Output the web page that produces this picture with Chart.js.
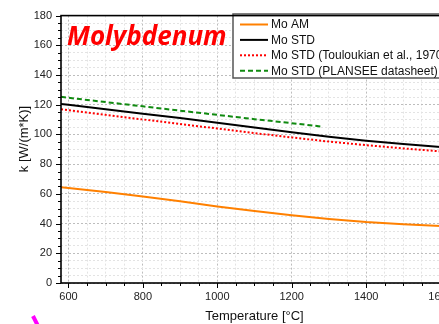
<!DOCTYPE html>
<html>
<head>
<meta charset="utf-8">
<script src="https://cdn.jsdelivr.net/npm/chart.js@4.4.1/dist/chart.umd.min.js"></script>
<style>
  html, body { margin: 0; padding: 0; background: #fff; overflow: hidden; }
  #wrap { position: absolute; left: 0; top: 0; width: 460px; height: 324px; }
</style>
</head>
<body>
<div id="wrap"><canvas id="kChart" width="460" height="324"></canvas></div>
<script>
// temperatures [°C]
const temps = [580, 600, 700, 800, 900, 1000, 1100, 1200, 1300, 1400, 1500, 1600];
const plantTemps = [580, 600, 700, 800, 900, 1000, 1100, 1200, 1280];

// thermal conductivity k [W/(m*K)]
const moAM = [64.5, 64.0, 61.2, 58.2, 55.0, 51.5, 48.4, 45.6, 43.1, 41.0, 39.6, 38.4];
const moSTD = [120.5, 120.0, 117.0, 114.0, 111.0, 107.8, 104.6, 101.4, 98.5, 95.8, 93.5, 91.5];
const moTouloukian = [116.9, 116.3, 113.2, 110.1, 107.0, 104.0, 100.9, 98.0, 95.2, 92.8, 90.6, 88.6];
const moPlansee = [125.3, 124.7, 121.8, 118.9, 116.0, 113.2, 110.3, 107.6, 105.3];

const xMajor = [600, 800, 1000, 1200, 1400, 1600];
const yMajor = [0, 20, 40, 60, 80, 100, 120, 140, 160, 180];
const xMinorStep = 50;

const toPoints = (xs, ys) => xs.map((x, i) => ({ x: x, y: ys[i] }));

const ctx = document.getElementById('kChart').getContext('2d');

// small outward ticks, long on labelled values
const tickMarks = {
    id: 'tickMarks',
    afterDraw(chart) {
        const c = chart.ctx;
        const xs = chart.scales.x, ys = chart.scales.y;
        const area = chart.chartArea;
        c.save();
        c.strokeStyle = '#000';
        c.lineWidth = 1;
        xs.ticks.forEach(t => {
            const px = Math.round(xs.getPixelForValue(t.value)) + 0.5;
            const len = xMajor.includes(t.value) ? 5 : 3;
            c.beginPath();
            c.moveTo(px, area.bottom);
            c.lineTo(px, area.bottom + len);
            c.stroke();
        });
        ys.ticks.forEach(t => {
            const py = Math.round(ys.getPixelForValue(t.value)) + 0.5;
            const len = yMajor.includes(t.value) ? 5 : 3;
            c.beginPath();
            c.moveTo(area.left, py);
            c.lineTo(area.left - len, py);
            c.stroke();
        });
        c.restore();
    }
};

// legend box inside the plot, title text, frame
const decorations = {
    id: 'decorations',
    afterDraw(chart) {
        const c = chart.ctx;
        const area = chart.chartArea;
        c.save();

        // legend
        const lx = 233, ly = 14, lw = 222, lh = 64;
        c.fillStyle = '#fff';
        c.fillRect(lx, ly, lw, lh);
        c.strokeStyle = '#555';
        c.lineWidth = 1.5;
        c.strokeRect(lx, ly, lw, lh);
        c.font = '12px "Liberation Sans", Arial, sans-serif';
        c.textBaseline = 'middle';
        chart.data.datasets.forEach((ds, i) => {
            const yy = ly + 10.5 + i * 15.4;
            c.strokeStyle = ds.borderColor;
            c.lineWidth = ds.borderWidth;
            c.setLineDash(ds.borderDash || []);
            c.beginPath();
            c.moveTo(240, yy);
            c.lineTo(268, yy);
            c.stroke();
            c.setLineDash([]);
            c.fillStyle = '#111';
            c.fillText(ds.label, 271, yy + 0.5);
        });

        // material name
        c.fillStyle = '#ff0000';
        c.font = 'italic bold 26px "Open Sans", sans-serif';
        c.textBaseline = 'alphabetic';
        c.fillText('Molybdenum', 67, 45);

        // y axis title, sits a bit above the plot centre
        c.fillStyle = '#111';
        c.font = '13px "Liberation Sans", Arial, sans-serif';
        c.textAlign = 'center';
        c.textBaseline = 'middle';
        c.translate(24, 139);
        c.rotate(-Math.PI / 2);
        c.fillText('k [W/(m*K)]', 0, 0);
        c.setTransform(1, 0, 0, 1, 0, 0);

        // frame
        c.strokeStyle = '#000';
        c.lineWidth = 1.6;
        c.strokeRect(area.left, area.top, area.right - area.left, area.bottom - area.top);

        // cut-off magenta mark at the bottom
        c.strokeStyle = '#ff00ff';
        c.lineWidth = 4;
        c.beginPath();
        c.moveTo(33, 316);
        c.lineTo(38, 326);
        c.stroke();
        c.restore();
    }
};

const chart = new Chart(ctx, {
    type: 'line',
    data: {
        datasets: [
            {
                label: 'Mo AM',
                data: toPoints(temps, moAM),
                borderColor: '#ff8000',
                borderWidth: 2
            },
            {
                label: 'Mo STD',
                data: toPoints(temps, moSTD),
                borderColor: '#000000',
                borderWidth: 2
            },
            {
                label: 'Mo STD (Touloukian et al., 1970)',
                data: toPoints(temps, moTouloukian),
                borderColor: '#ff0000',
                borderWidth: 2,
                borderDash: [2, 2]
            },
            {
                label: 'Mo STD (PLANSEE datasheet)',
                data: toPoints(plantTemps, moPlansee),
                borderColor: '#108a10',
                borderWidth: 2,
                borderDash: [5, 3]
            }
        ]
    },
    options: {
        responsive: false,
        animation: false,
        layout: { padding: { left: 29, top: 12, right: 11, bottom: 0 } },
        elements: { point: { radius: 0 }, line: { tension: 0 } },
        plugins: { legend: { display: false }, tooltip: { enabled: false } },
        scales: {
            x: {
                type: 'linear',
                min: 580,
                max: 1620,
                afterFit: s => { s.height = 41; },
                afterBuildTicks: s => {
                    const ticks = [];
                    for (let v = xMajor[0]; v <= xMajor[xMajor.length - 1]; v += xMinorStep) {
                        ticks.push({ value: v });
                    }
                    s.ticks = ticks;
                },
                ticks: {
                    autoSkip: false,
                    maxRotation: 0,
                    padding: 7,
                    color: '#222',
                    font: { family: '"Liberation Sans", Arial', size: 11 },
                    callback: v => (xMajor.includes(v) ? String(v) : '')
                },
                grid: {
                    drawTicks: false,
                    color: c => (c.tick && xMajor.includes(c.tick.value) ? '#bdbdbd' : '#e3e3e3'),
                    lineWidth: 1
                },
                border: { display: false, dash: [2, 2] },
                title: {
                    display: true,
                    text: 'Temperature [°C]',
                    color: '#111',
                    font: { family: '"Liberation Sans", Arial', size: 13 },
                    padding: { top: 0, bottom: 0 }
                }
            },
            y: {
                min: 0,
                max: 180,
                afterFit: s => { s.width = 32; },
                ticks: {
                    stepSize: 5,
                    autoSkip: false,
                    padding: 9,
                    color: '#222',
                    font: { family: '"Liberation Sans", Arial', size: 11 },
                    callback: v => (yMajor.includes(v) ? String(v) : '')
                },
                grid: {
                    drawTicks: false,
                    color: c => (c.tick && yMajor.includes(c.tick.value) ? '#bdbdbd' : '#e3e3e3'),
                    lineWidth: 1
                },
                border: { display: false, dash: [2, 2] }
            }
        }
    },
    plugins: [tickMarks, decorations]
});
</script>
</body>
</html>
